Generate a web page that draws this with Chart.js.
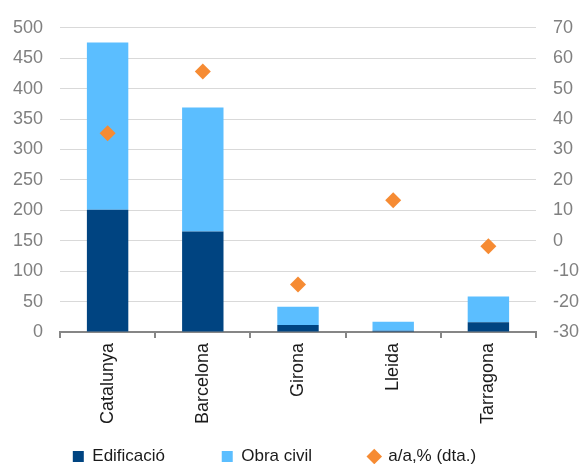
<!DOCTYPE html>
<html>
<head>
<meta charset="utf-8">
<script src="https://cdn.jsdelivr.net/npm/chart.js@4"></script>
<style>
  html, body { margin: 0; padding: 0; background: #fff; }
  #wrap { width: 582px; height: 464px; }
</style>
</head>
<body>
<div id="wrap"><canvas id="myChart"></canvas></div>
<script>
// Dades llegides del gràfic
const categories = ['Catalunya', 'Barcelona', 'Girona', 'Lleida', 'Tarragona'];
const edificacio = [201, 165, 11.5, 2, 16];
const obraCivil = [275, 204, 30, 15, 42.5];
const variacio = [35.3, 55.6, -14.4, 13.3, -1.8];

const font = { family: 'Liberation Sans, Arial, sans-serif', size: 18 };
// espais per separar les entrades de la llegenda (per índex de dataset)
const gaps = [' '.repeat(12), ' '.repeat(12), ' '.repeat(7)];

const config = {
    type: 'bar',
    data: {
        labels: categories,
        datasets: [
            {
                label: 'Edificació',
                data: edificacio,
                backgroundColor: '#004481',
                yAxisID: 'y',
                order: 1,
                pointStyle: 'rect'
            },
            {
                label: 'Obra civil',
                data: obraCivil,
                backgroundColor: '#5BBEFF',
                yAxisID: 'y',
                order: 1,
                pointStyle: 'rect'
            },
            {
                type: 'line',
                label: 'a/a,% (dta.)',
                data: variacio,
                yAxisID: 'y1',
                showLine: false,
                pointStyle: 'rectRot',
                pointRadius: 8,
                pointHoverRadius: 8,
                backgroundColor: '#F68B33',
                borderColor: '#F68B33',
                borderWidth: 0,
                order: 0
            }
        ]
    },
    options: {
        responsive: true,
        maintainAspectRatio: false,
        animation: false,
        layout: { padding: { top: 19, left: 0, right: 0, bottom: -11 } },
        datasets: {
            bar: { barPercentage: 0.435, categoryPercentage: 1 }
        },
        scales: {
            x: {
                stacked: true,
                offset: true,
                grid: {
                    offset: true,
                    drawOnChartArea: false,
                    drawTicks: true,
                    tickLength: 6,
                    color: '#868686',
                    lineWidth: 2
                },
                border: { display: true, color: '#868686', width: 2 },
                ticks: {
                    minRotation: 90,
                    maxRotation: 90,
                    color: '#1a1a1a',
                    font: font,
                    padding: 5
                },
                afterFit: s => { s.height = 116; }
            },
            y: {
                stacked: true,
                position: 'left',
                min: 0,
                max: 500,
                grid: { color: '#D9D9D9', lineWidth: 1, drawTicks: false },
                border: { display: false },
                ticks: { stepSize: 50, color: '#808080', font: font, padding: 17 },
                afterFit: s => { s.width = 60; }
            },
            y1: {
                position: 'right',
                min: -30,
                max: 70,
                grid: { display: false, drawTicks: false },
                border: { display: false },
                ticks: { stepSize: 10, color: '#808080', font: font, padding: 17 },
                afterFit: s => { s.width = 46; }
            }
        },
        plugins: {
            legend: {
                position: 'bottom',
                labels: {
                    usePointStyle: true,
                    boxWidth: 11,
                    boxHeight: 11,
                    padding: 0,
                    color: '#1a1a1a',
                    font: { family: font.family, size: 17, lineHeight: 1 },
                    sort: (a, b) => a.datasetIndex - b.datasetIndex,
                    generateLabels: chart => {
                        const items = Chart.defaults.plugins.legend.labels.generateLabels(chart);
                        items.forEach(it => { it.text = it.text + gaps[it.datasetIndex]; });
                        return items;
                    }
                }
            },
            tooltip: { enabled: false }
        }
    }
};

const myChart = new Chart(document.getElementById('myChart'), config);
</script>
</body>
</html>
